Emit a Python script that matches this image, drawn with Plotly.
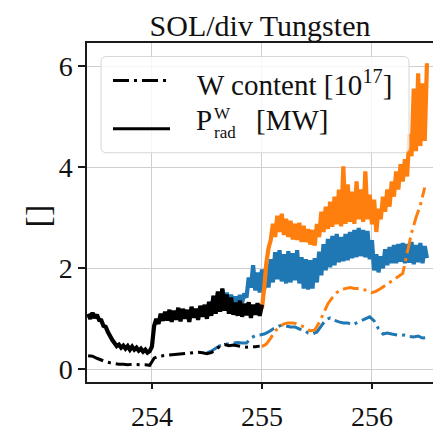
import numpy as np
import plotly.graph_objects as go

# ---- time bases [s] ----
t_fast_black = np.round(np.arange(253.42, 255.0001, 0.02), 2)   # 80 samples
t_fast_blue = np.round(np.arange(254.50, 256.5001, 0.02), 2)    # 101 samples
t_fast_orange = np.round(np.arange(255.00, 256.5001, 0.02), 2)  # 76 samples
t_slow_black = np.round(np.arange(253.42, 254.9801, 0.04), 2)   # 40 samples
t_slow_blue = np.round(np.arange(254.50, 256.5001, 0.04), 2)    # 51 samples
t_slow_orange = np.round(np.arange(255.00, 256.4801, 0.04), 2)  # 38 samples

# ---- radiated power P_rad^W [MW] ----
prad_black = [
    1.10, 1.00, 1.12, 1.02, 1.08, 0.98, 0.97, 0.86, 0.84, 0.74,
    0.66, 0.58, 0.52, 0.46, 0.49, 0.43, 0.47, 0.41, 0.46, 0.39,
    0.45, 0.39, 0.43, 0.37, 0.41, 0.35, 0.39, 0.33, 0.36, 0.45,
    0.86, 1.00, 0.90, 1.10, 0.96, 1.14, 0.97, 1.18, 0.94, 1.16,
    0.98, 1.22, 0.95, 1.20, 1.00, 1.18, 0.94, 1.24, 1.02, 1.20,
    0.98, 1.26, 1.04, 1.28, 1.00, 1.34, 1.06, 1.46, 1.10, 1.54,
    1.14, 1.60, 1.16, 1.48, 1.10, 1.42, 1.08, 1.32, 1.06, 1.36,
    1.04, 1.30, 1.07, 1.33, 1.02, 1.28, 1.08, 1.31, 1.06, 1.28,
]
prad_blue = [
    1.15, 1.33, 1.20, 1.45, 1.24, 1.52, 1.30, 1.58, 1.34, 1.52,
    1.30, 1.48, 1.28, 1.44, 1.30, 1.47, 1.32, 1.50, 1.42, 1.82,
    1.62, 2.06, 1.56, 1.92, 1.52, 1.98, 1.58, 2.08, 1.62, 2.18,
    1.72, 2.32, 1.78, 2.36, 1.74, 2.28, 1.70, 2.34, 1.72, 2.30,
    1.76, 2.36, 1.70, 2.22, 1.60, 2.18, 1.58, 2.16, 1.60, 2.20,
    1.72, 2.33, 1.86, 2.48, 1.96, 2.58, 2.02, 2.64, 2.06, 2.68,
    2.12, 2.62, 2.14, 2.68, 2.16, 2.72, 2.20, 2.76, 2.22, 2.80,
    2.24, 2.76, 2.22, 2.74, 2.18, 2.56, 1.96, 2.28, 1.92, 2.24,
    2.00, 2.38, 2.06, 2.42, 2.10, 2.46, 2.10, 2.48, 2.13, 2.50,
    2.10, 2.48, 2.11, 2.52, 2.08, 2.46, 2.12, 2.50, 2.10, 2.44, 2.20,
]
prad_orange = [
    1.20, 1.60, 2.10, 2.40, 2.56, 2.88, 2.62, 3.04, 2.72, 3.08,
    2.66, 2.98, 2.62, 2.94, 2.57, 2.88, 2.56, 2.90, 2.52, 2.84,
    2.52, 2.78, 2.47, 2.76, 2.45, 2.88, 2.62, 3.12, 2.72, 3.22,
    2.78, 3.32, 2.82, 3.42, 2.87, 3.56, 2.83, 4.02, 2.88, 3.66,
    2.92, 3.52, 2.88, 3.72, 2.97, 3.56, 2.92, 3.92, 2.97, 3.46,
    2.87, 3.36, 2.72, 3.18, 2.97, 3.42, 3.12, 3.56, 3.22, 3.72,
    3.42, 3.92, 3.56, 4.06, 3.72, 4.16, 3.82, 4.66, 4.22, 5.56,
    4.32, 5.86, 4.42, 5.66, 4.52, 6.06,
]

# ---- tungsten content [1e17] ----
wcont_black = [
    0.27, 0.26, 0.22, 0.18, 0.15, 0.13, 0.11, 0.10, 0.10, 0.09,
    0.10, 0.09, 0.09, 0.09, 0.08, 0.22, 0.26, 0.27, 0.28, 0.29,
    0.30, 0.31, 0.31, 0.33, 0.34, 0.34, 0.33, 0.31, 0.33, 0.40,
    0.46, 0.49, 0.47, 0.48, 0.46, 0.45, 0.44, 0.44, 0.45, 0.46,
]
wcont_blue = [
    0.33, 0.36, 0.42, 0.47, 0.50, 0.50, 0.52, 0.53, 0.52, 0.52,
    0.62, 0.67, 0.68, 0.70, 0.74, 0.80, 0.84, 0.88, 0.86, 0.84,
    0.84, 0.80, 0.78, 0.72, 0.70, 0.74, 0.86, 0.98, 1.02, 0.97,
    0.94, 0.92, 0.92, 0.88, 0.92, 0.96, 1.00, 1.04, 0.96, 0.80,
    0.70, 0.72, 0.70, 0.68, 0.67, 0.68, 0.65, 0.64, 0.66, 0.62,
    0.63,
]
wcont_orange = [
    0.45, 0.50, 0.62, 0.76, 0.84, 0.90, 0.92, 0.92, 0.90, 0.86,
    0.82, 0.76, 0.78, 0.92, 1.12, 1.30, 1.42, 1.52, 1.58, 1.60,
    1.62, 1.60, 1.60, 1.58, 1.56, 1.52, 1.55, 1.60, 1.66, 1.72,
    1.78, 1.84, 1.90, 2.30, 2.70, 3.00, 3.25, 3.60,
]

x_ticks = [254, 255, 256]
y_ticks = [0, 2, 4, 6]

BLUE = "#1f77b4"
ORANGE = "#ff7f0e"
BLACK = "#000000"
DASHDOT = "16px,5px,3px,5px"
SERIF = "Liberation Serif"

fig = go.Figure()

# noisy radiated-power bands
for t, v, c in [(t_fast_blue, prad_blue, BLUE),
                (t_fast_orange, prad_orange, ORANGE),
                (t_fast_black, prad_black, BLACK)]:
    fig.add_trace(go.Scatter(x=t, y=v, mode="lines", showlegend=False,
                             line=dict(color=c, width=4.2, simplify=False)))

# tungsten content (dash-dot)
for t, v, c in [(t_slow_blue, wcont_blue, BLUE),
                (t_slow_orange, wcont_orange, ORANGE),
                (t_slow_black, wcont_black, BLACK)]:
    fig.add_trace(go.Scatter(x=t, y=v, mode="lines", showlegend=False,
                             line=dict(color=c, width=3, dash=DASHDOT)))

# plot area in pixels: left 87, right 433, top 43, bottom 395
L, R, T, B = 87, 433, 43, 395


def px(x):
    return (x - L) / (R - L)


def py(y):
    return (B - y) / (B - T)


# legend frame (rounded)
x0, x1, y0, y1 = px(101), px(409), py(157), py(57)
rx, ry = 6 / (R - L), 6 / (B - T)
frame = (f"M{x0 + rx},{y0} L{x1 - rx},{y0} Q{x1},{y0} {x1},{y0 + ry} "
         f"L{x1},{y1 - ry} Q{x1},{y1} {x1 - rx},{y1} L{x0 + rx},{y1} "
         f"Q{x0},{y1} {x0},{y1 - ry} L{x0},{y0 + ry} Q{x0},{y0} {x0 + rx},{y0} Z")
shapes = [
    dict(type="path", path=frame, xref="paper", yref="paper",
         fillcolor="rgba(255,255,255,0.8)", line=dict(color="#d6d6d6", width=1),
         layer="above"),
    dict(type="line", xref="paper", yref="paper", x0=px(113), x1=px(170),
         y0=py(82), y1=py(82), line=dict(color=BLACK, width=3, dash=DASHDOT),
         layer="above"),
    dict(type="line", xref="paper", yref="paper", x0=px(113), x1=px(170),
         y0=py(132), y1=py(132), line=dict(color=BLACK, width=3),
         layer="above"),
]

txt = dict(family=SERIF, size=29, color="#111111")
small = dict(family=SERIF, size=17, color="#111111")
annotations = [
    dict(text="W content [10<sup>17</sup>]", x=px(196), y=py(85),
         xanchor="left", yanchor="middle", font=txt),
    dict(text="P", x=px(195), y=py(123), xanchor="left", yanchor="middle", font=txt),
    dict(text="W", x=px(213), y=py(116), xanchor="left", yanchor="middle", font=small),
    dict(text="rad", x=px(213), y=py(136), xanchor="left", yanchor="middle", font=small),
    dict(text="[MW]", x=px(255), y=py(123), xanchor="left", yanchor="middle", font=txt),
    dict(text="[]", x=px(37), y=py(222), xanchor="center", yanchor="middle",
         textangle=-90, font=dict(family=SERIF, size=34, color="#111111")),
]
for a in annotations:
    a.update(xref="paper", yref="paper", showarrow=False, borderpad=0)

axis_common = dict(
    showline=True, linecolor="#1a1a1a", linewidth=1.5,
    showgrid=True, gridcolor="#cfcfcf", gridwidth=1,
    zeroline=False, ticks="outside", tickcolor="#1a1a1a", tickwidth=1.5,
    tickfont=dict(family=SERIF, size=28, color="#111111"),
)

fig.update_layout(
    width=433, height=432,
    margin=dict(l=L, r=433 - R, t=T, b=432 - B, pad=0),
    paper_bgcolor="white", plot_bgcolor="white",
    title=dict(text="SOL/div Tungsten", x=(L + R) / 2 / 433, xanchor="center",
               y=(432 - 25) / 432, yanchor="middle",
               font=dict(family=SERIF, size=30, color="#111111")),
    xaxis=dict(range=[253.41, 256.555], tickvals=x_ticks,
               ticktext=[str(v) for v in x_ticks], ticklen=5,
               ticklabelstandoff=4, mirror=True, **axis_common),
    yaxis=dict(range=[-0.25, 6.46], tickvals=y_ticks,
               ticktext=[str(v) for v in y_ticks], ticklen=7,
               mirror=False, **axis_common),
    shapes=shapes, annotations=annotations, showlegend=False,
)

fig.write_html("out.html")
